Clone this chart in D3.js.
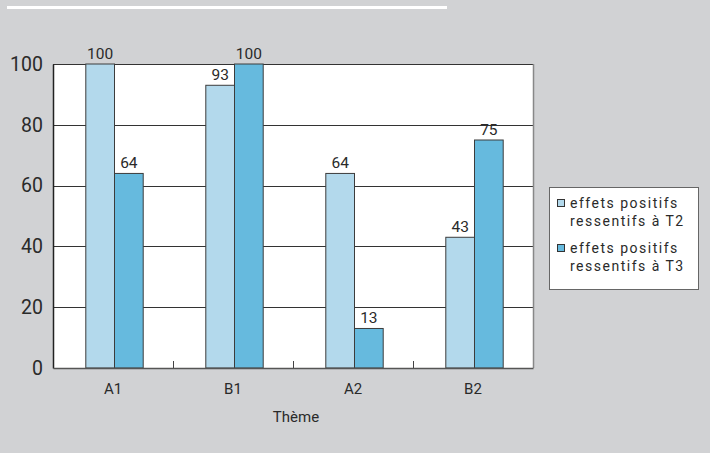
<!DOCTYPE html>
<html>
<head>
<meta charset="utf-8">
<script src="https://cdn.jsdelivr.net/npm/d3@7"></script>
<style>
  html, body { margin: 0; padding: 0; background: #d1d2d4; }
  svg { display: block; font-family: Roboto, "Noto Sans", sans-serif; }
</style>
</head>
<body>
<script>
// Thèmes et pourcentages d'effets positifs ressentis
const categories = ["A1", "B1", "A2", "B2"];
const seriesNames = ["effets positifs ressentifs à T2", "effets positifs ressentifs à T3"];
const valuesT2 = [100, 93, 64, 43];
const valuesT3 = [64, 100, 13, 75];
const yTicks = [0, 20, 40, 60, 80, 100];
const legendLines = [["effets positifs", "ressentifs à T2"], ["effets positifs", "ressentifs à T3"]];
const colors = ["#b3d9ec", "#66bade"];

const W = 710, H = 453;
const svg = d3.select("body").append("svg").attr("width", W).attr("height", H);
svg.append("rect").attr("width", W).attr("height", H).attr("fill", "#d1d2d4");

// filet blanc sous le titre
svg.append("line").attr("x1", 7).attr("x2", 447).attr("y1", 7.5).attr("y2", 7.5)
  .attr("stroke", "#fff").attr("stroke-width", 3);

const plotL = 53, plotR = 533, plotT = 64, plotB = 368;

const x = d3.scaleBand().domain(categories).range([plotL, plotR]);
const xs = d3.scaleBand().domain([0, 1]).range([0, 57.4]);
const y = d3.scaleLinear().domain([0, 100]).range([plotB, plotT]);

// zone de tracé
svg.append("rect").attr("x", plotL).attr("y", plotT).attr("width", plotR - plotL).attr("height", plotB - plotT)
  .attr("fill", "#fff");

// grille horizontale
svg.append("g").selectAll("line").data(yTicks.filter(d => d > 0)).join("line")
  .attr("x1", plotL).attr("x2", plotR)
  .attr("y1", d => Math.round(y(d)) + 0.5).attr("y2", d => Math.round(y(d)) + 0.5)
  .attr("stroke", "#333").attr("stroke-width", 1);

// bordure droite
svg.append("line").attr("x1", plotR + 0.5).attr("x2", plotR + 0.5).attr("y1", plotT).attr("y2", plotB)
  .attr("stroke", "#888").attr("stroke-width", 1.5);

// barres
const series = [valuesT2, valuesT3];
const groups = svg.append("g").selectAll("g").data(categories).join("g")
  .attr("transform", c => `translate(${x(c) + (x.bandwidth() - 57.4) / 2 + 1.5},0)`);

groups.selectAll("rect").data((c, i) => series.map((s, k) => ({ k, v: s[i] }))).join("rect")
  .attr("x", d => xs(d.k)).attr("width", xs.bandwidth())
  .attr("y", d => y(d.v)).attr("height", d => y(0) - y(d.v))
  .attr("fill", d => colors[d.k]).attr("stroke", "#3c3c3c").attr("stroke-width", 1);

groups.selectAll("text").data((c, i) => series.map((s, k) => ({ k, v: s[i] }))).join("text")
  .attr("x", d => xs(d.k) + xs.bandwidth() / 2).attr("y", d => y(d.v) - 5)
  .attr("text-anchor", "middle").attr("font-size", 15.5).attr("fill", "#2a2a2a")
  .text(d => d.v);

// axe Y
const yAxis = svg.append("g").attr("transform", `translate(${plotL},0)`)
  .call(d3.axisLeft(y).tickValues(yTicks).tickSize(0).tickPadding(10));
yAxis.select(".domain").attr("stroke", "#222").attr("stroke-width", 1.5);
yAxis.selectAll("text").attr("font-size", 19.5).attr("fill", "#2a2a2a")
  .attr("font-family", "Roboto, sans-serif");

// axe X
const xAxis = svg.append("g").attr("transform", `translate(0,${plotB})`)
  .call(d3.axisBottom(x).tickSize(0).tickPadding(15));
xAxis.select(".domain").attr("stroke", "#555").attr("stroke-width", 1.5);
xAxis.selectAll("text").attr("font-size", 15).attr("fill", "#2a2a2a")
  .attr("font-family", "Roboto, sans-serif");

// graduations entre catégories
svg.append("g").selectAll("line").data(categories.slice(1)).join("line")
  .attr("x1", c => x(c) + 0.5).attr("x2", c => x(c) + 0.5)
  .attr("y1", plotB - 7).attr("y2", plotB)
  .attr("stroke", "#444").attr("stroke-width", 1);

svg.append("text").attr("x", 296).attr("y", 422).attr("text-anchor", "middle")
  .attr("font-size", 15).attr("fill", "#2a2a2a").text("Thème");

// légende
const lg = svg.append("g");
lg.append("rect").attr("x", 549.5).attr("y", 187.5).attr("width", 149).attr("height", 102)
  .attr("fill", "#fff").attr("stroke", "#666").attr("stroke-width", 1);
const items = lg.selectAll("g").data(seriesNames).join("g")
  .attr("transform", (d, i) => `translate(0,${i * 45})`);
items.append("rect").attr("x", 557.5).attr("y", 199.5).attr("width", 7).attr("height", 7)
  .attr("fill", (d, i) => colors[i]).attr("stroke", "#333").attr("stroke-width", 1);
items.each(function (d, i) {
  const t = d3.select(this).append("text").attr("x", 570).attr("y", 208)
    .attr("font-size", 14).attr("letter-spacing", 1.5).attr("fill", "#2a2a2a");
  t.selectAll("tspan").data(legendLines[i]).join("tspan")
    .attr("x", 570).attr("dy", (l, j) => j === 0 ? 0 : 18).text(l => l);
});
</script>
</body>
</html>
